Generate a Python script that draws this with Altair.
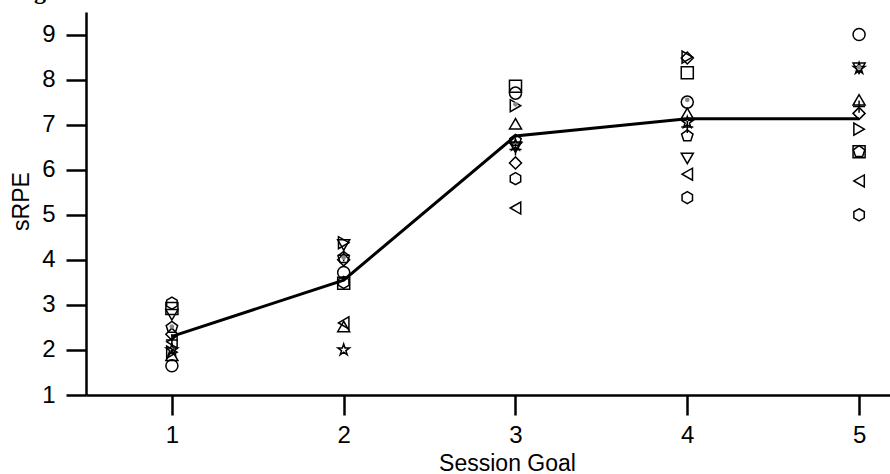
import altair as alt
import pandas as pd

session_goals = [1, 2, 3, 4, 5]
markers = ["circle", "square", "triangle-up", "triangle-down", "triangle-left",
           "triangle-right", "diamond", "star", "pentagon", "hexagon", "cross"]

# sRPE per marker (same order as markers) for each session goal
srpe_goal1 = [1.65, 2.92, 1.88, 2.78, 2.18, 1.95, 2.35, 2.00, 2.50, 3.04, 2.22]
srpe_goal2 = [3.72, 3.48, 2.52, 4.33, 2.60, 4.38, 4.00, 2.00, 4.05, 3.50, 4.10]
srpe_goal3 = [7.70, 7.85, 7.02, 6.50, 5.15, 7.42, 6.15, 6.55, 6.65, 5.80, 6.45]
srpe_goal4 = [7.50, 8.15, 7.25, 6.25, 5.90, 8.50, 8.48, 7.05, 6.75, 5.38, 6.95]
srpe_goal5 = [9.00, 6.40, 7.55, 8.25, 5.75, 6.90, 7.25, 8.25, 6.40, 5.00, 7.40]
gray_dot = [2.52, 4.05, 7.45, 7.55, 8.27]
mean_srpe = [2.30, 3.55, 6.75, 7.13, 7.13]

STAR = ("M0,-1L0.2245,-0.309L0.9511,-0.309L0.3633,0.118L0.5878,0.809L0,0.382"
        "L-0.5878,0.809L-0.3633,0.118L-0.9511,-0.309L-0.2245,-0.309Z")
PENT = "M0,-1L0.9511,-0.309L0.5878,0.809L-0.5878,0.809L-0.9511,-0.309Z"
HEX = "M0,-1L0.866,-0.5L0.866,0.5L0,1L-0.866,0.5L-0.866,-0.5Z"
PLUS = "M-1,0L1,0M0,-1L0,1"
shape_range = ["circle", "square", "triangle-up", "triangle-down", "triangle-left",
               "triangle-right", "diamond", STAR, PENT, HEX, PLUS]

rows = []
for g, vals in zip(session_goals, [srpe_goal1, srpe_goal2, srpe_goal3, srpe_goal4, srpe_goal5]):
    for m, v in zip(markers, vals):
        rows.append({"goal": g, "srpe": v, "marker": m})
pts = pd.DataFrame(rows)
gray_df = pd.DataFrame({"goal": session_goals, "srpe": gray_dot})
mean_df = pd.DataFrame({"goal": session_goals, "srpe": mean_srpe})

FONT = "Liberation Sans"
xscale = alt.Scale(domain=[0.5, 5.18], nice=False, zero=False)
yscale = alt.Scale(domain=[1, 9.5], nice=False, zero=False)

xaxis = alt.Axis(values=session_goals, format="d", title="Session Goal",
                 titleX=421, titleY=75, titleAlign="center", titleBaseline="alphabetic")
yaxis = alt.Axis(values=list(range(1, 10)), format="d", title="sRPE",
                 titleX=-58, titleY=189, titleAlign="center", titleBaseline="alphabetic",
                 titleAngle=270)

points = alt.Chart(pts).mark_point(filled=False, stroke="black", strokeWidth=1.5,
                                   size=145, opacity=1).encode(
    x=alt.X("goal:Q", scale=xscale, axis=xaxis),
    y=alt.Y("srpe:Q", scale=yscale, axis=yaxis),
    shape=alt.Shape("marker:N", scale=alt.Scale(domain=markers, range=shape_range), legend=None),
)

gray = alt.Chart(gray_df).mark_circle(color="#8a8a8a", size=22, opacity=1).encode(
    x=alt.X("goal:Q", scale=xscale),
    y=alt.Y("srpe:Q", scale=yscale),
)

line = alt.Chart(mean_df).mark_line(color="black", strokeWidth=3).encode(
    x=alt.X("goal:Q", scale=xscale),
    y=alt.Y("srpe:Q", scale=yscale),
)

label_g = alt.Chart(pd.DataFrame({"t": ["g"]})).mark_text(
    font="Liberation Serif", fontWeight="bold", fontSize=24, align="center",
    baseline="alphabetic", color="black").encode(
    x=alt.value(-46), y=alt.value(-13), text="t:N")

chart = alt.layer(points, gray, line, label_g).properties(
    width=804, height=383,
    autosize=alt.AutoSizeParams(type="none"),
    padding={"left": 86, "top": 12, "right": 0, "bottom": 79},
).configure_view(stroke=None).configure_axis(
    grid=False, domainColor="black", domainWidth=2.5, tickColor="black",
    tickWidth=2.5, tickSize=20, labelFont=FONT, labelFontSize=24,
    labelColor="black", titleFont=FONT, titleFontSize=23,
    titleFontWeight="normal", titleColor="black",
).configure_axisX(labelPadding=8).configure_axisY(labelPadding=11)

chart.save("out.html", embed_options={"renderer": "svg", "actions": False})
